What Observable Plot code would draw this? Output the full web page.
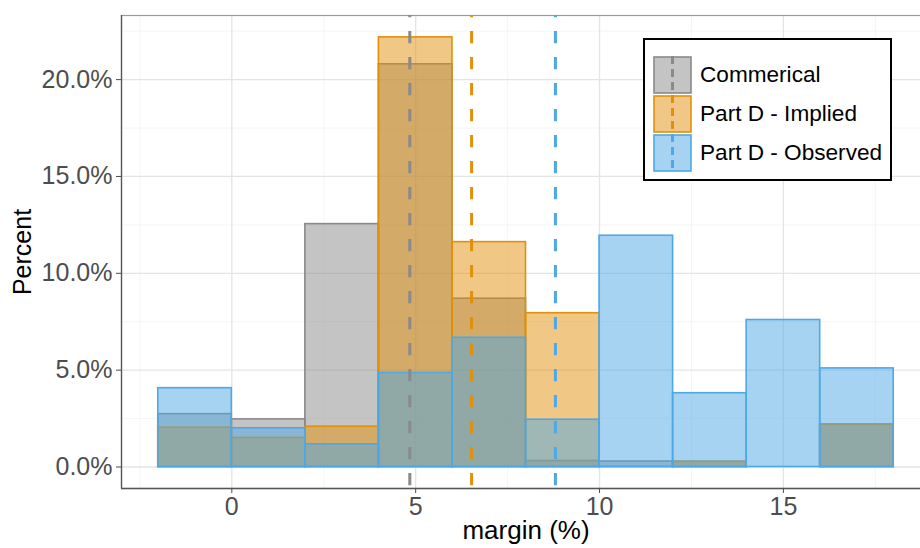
<!DOCTYPE html>
<html><head><meta charset="utf-8">
<script src="https://cdn.jsdelivr.net/npm/d3@7"></script>
<script src="https://cdn.jsdelivr.net/npm/@observablehq/plot@0.6"></script>
<style>
body{margin:0;background:#fff;}
#wrap{position:relative;width:920px;height:548px;overflow:hidden;font-family:"Liberation Sans",Arial,Helvetica,sans-serif;}
#legend{position:absolute;left:643px;top:38px;width:245px;height:139px;border:2.5px solid #000;background:#fff;box-sizing:content-box;}
.row{position:absolute;left:8px;height:38px;display:flex;align-items:center;}
.row svg{display:block;}
.row span{margin-left:7px;font-size:22.6px;color:#000;white-space:nowrap;}
</style></head>
<body><div id="wrap"></div>
<script>
const binEdges = [-2, 0, 2, 4, 6, 8, 10, 12, 14, 16, 18];
const seriesNames = ["Commerical", "Part D - Implied", "Part D - Observed"];
const commercial = [2.73, 2.46, 12.54, 20.79, 8.69, 0.31, 0.28, 0.27, 0, 2.18];
const implied    = [2.03, 1.50, 2.08, 22.18, 11.61, 7.94, 0, 0.27, 0, 2.20];
const observed   = [4.07, 2.00, 1.17, 4.85, 6.67, 2.44, 11.94, 3.81, 7.59, 5.09];
const means = [4.84, 6.52, 8.80];
const colors = ["#8a8a8a", "#E1900A", "#4DA8E6"];
const xTicks = [0, 5, 10, 15];
const yTicks = [0, 5, 10, 15, 20];
const xMinor = [-2.5, 2.5, 7.5, 12.5, 17.5];
const yMinor = [2.5, 7.5, 12.5, 17.5, 22.5];
const xDomain = [-3, 19];
const yDomain = [-1.11, 23.31];

const seriesValues = [commercial, implied, observed];
const rows = [];
seriesValues.forEach((vals, i) => {
  vals.forEach((v, j) => {
    if (v > 0) rows.push({series: seriesNames[i], x1: binEdges[j], x2: binEdges[j + 1], y: v});
  });
});
const meanRows = means.map((m, i) => ({series: seriesNames[i], mean: m}));

const font = '"Liberation Sans",Arial,Helvetica,sans-serif';
const chart = Plot.plot({
  width: 920, height: 548,
  marginLeft: 121, marginRight: -10, marginTop: 15, marginBottom: 60,
  style: {fontFamily: font, background: "#fff", overflow: "visible"},
  x: {domain: xDomain},
  y: {domain: yDomain},
  color: {domain: seriesNames, range: colors},
  marks: [
    Plot.gridX(xMinor, {stroke: "#F1F1F1", strokeOpacity: 1, strokeWidth: 0.7}),
    Plot.gridY(yMinor, {stroke: "#F1F1F1", strokeOpacity: 1, strokeWidth: 0.7}),
    Plot.gridX(xTicks, {stroke: "#E4E4E4", strokeOpacity: 1, strokeWidth: 1.3}),
    Plot.gridY(yTicks, {stroke: "#E4E4E4", strokeOpacity: 1, strokeWidth: 1.3}),
    Plot.frame({stroke: "#9a9a9a", strokeWidth: 1.2}),
    Plot.rectY(rows, {x1: "x1", x2: "x2", y1: 0, y2: "y", fill: "series", stroke: "series", fillOpacity: 0.5, strokeWidth: 1.6, inset: 0}),
    Plot.ruleX(meanRows, {x: "mean", stroke: "series", strokeWidth: 3, strokeDasharray: "12.3,13.7", strokeDashoffset: 10}),
    Plot.ruleX([xDomain[0]], {stroke: "#555", strokeWidth: 1.3}),
    Plot.ruleY([yDomain[0]], {stroke: "#555", strokeWidth: 1.3}),
    Plot.axisX({ticks: xTicks, tickSize: 5, tickPadding: 4, fontSize: 25, color: "#4D4D4D", label: null}),
    Plot.axisY({ticks: yTicks, tickSize: 5, tickPadding: 4, fontSize: 25, color: "#4D4D4D", label: null, tickFormat: d => d.toFixed(1) + "%"}),
    Plot.text(["margin (%)"], {frameAnchor: "bottom", dy: 50, fontSize: 26, fill: "#000", textAnchor: "middle"}),
    Plot.text(["Percent"], {frameAnchor: "left", dx: -99, rotate: -90, fontSize: 25, fill: "#000", textAnchor: "middle"})
  ]
});
const wrap = document.getElementById("wrap");
wrap.appendChild(chart);

const legend = d3.select(wrap).append("div").attr("id", "legend");
seriesNames.forEach((name, i) => {
  const row = legend.append("div").attr("class", "row").style("top", (16 + i * 39) + "px");
  const svg = row.append("svg").attr("width", 40).attr("height", 38);
  svg.append("rect").attr("x", 1).attr("y", 1).attr("width", 37).attr("height", 36)
    .attr("fill", colors[i]).attr("fill-opacity", 0.5).attr("stroke", colors[i]).attr("stroke-width", 1.6);
  svg.append("line").attr("x1", 19.5).attr("x2", 19.5).attr("y1", 0).attr("y2", 38)
    .attr("stroke", colors[i]).attr("stroke-width", 3).attr("stroke-dasharray", "8,5").attr("stroke-dashoffset", -0);
  row.append("span").text(name);
});
</script>
</body></html>
